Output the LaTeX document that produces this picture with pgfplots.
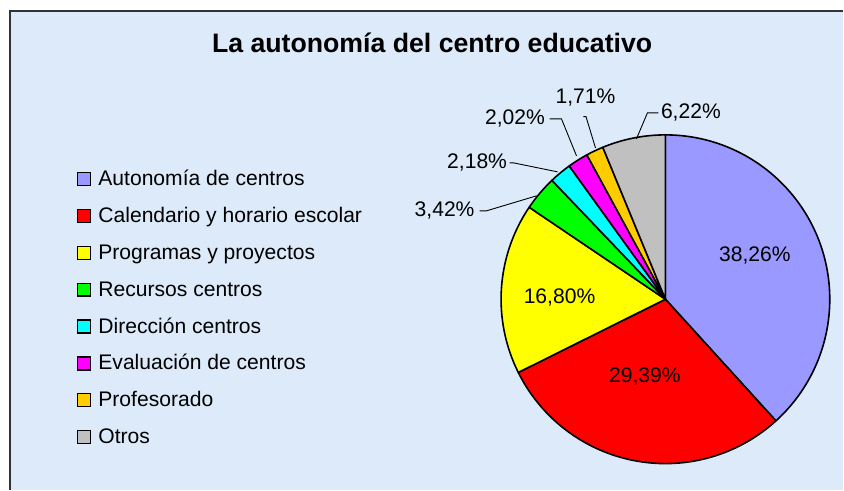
\documentclass[border=0pt]{standalone}
\usepackage{fontspec}
\setmainfont{Liberation Sans}
\usepackage{pgfplots}
\usepackage{pgfplotstable}
\pgfplotsset{compat=1.18}

\definecolor{bgcol}{RGB}{221,234,249}
\definecolor{cAut}{RGB}{153,153,255}
\definecolor{cCal}{RGB}{255,0,0}
\definecolor{cPro}{RGB}{255,255,0}
\definecolor{cRec}{RGB}{0,255,0}
\definecolor{cDir}{RGB}{0,255,255}
\definecolor{cEva}{RGB}{255,0,255}
\definecolor{cPrf}{RGB}{255,204,0}
\definecolor{cOtr}{RGB}{192,192,192}

% value, colour, label position (pixel coords, y downward)
\pgfplotstableread[col sep=comma]{
name,val,col,lx,ly
Autonomía de centros,38.26,cAut,755.5,261.7
Calendario y horario escolar,29.39,cCal,645.5,383.3
Programas y proyectos,16.80,cPro,560,303.3
Recursos centros,3.42,cRec,445,216.7
Dirección centros,2.18,cDir,477.5,168.3
Evaluación de centros,2.02,cEva,515.5,125
Profesorado,1.71,cPrf,586,103.3
Otros,6.22,cOtr,691.5,118.3
}\piedata

\begin{document}
\begin{tikzpicture}[every node/.style={font=\fontsize{21.1}{25}\selectfont, inner sep=0pt}]
\begin{axis}[
  x=1pt, y=1pt, scale only axis,
  xmin=0, xmax=844, ymin=0, ymax=490,
  y dir=reverse,
  disabledatascaling,
  hide axis, clip=false,
]
% chart area
\fill[white] (axis cs:0,0) rectangle (axis cs:844,490);
\fill[bgcol] (axis cs:10,11) rectangle (axis cs:844,490);
\draw[line width=1.5pt, black!80] (axis cs:10,490) -- (axis cs:10,11) -- (axis cs:844,11);

\node[anchor=base, font=\fontsize{26.7}{31}\selectfont\bfseries] at (axis cs:432.5,52.3) {La autonomía del centro educativo};

% slices, legend and labels from the table
\pgfplotstablegetrowsof{\piedata}
\pgfmathtruncatemacro\nrows{\pgfplotsretval-1}
\def\cum{0}
\pgfplotsforeachungrouped \i in {0,...,\nrows}{%
  \pgfplotstablegetelem{\i}{val}\of\piedata \let\pv\pgfplotsretval
  \pgfplotstablegetelem{\i}{col}\of\piedata \let\pc\pgfplotsretval
  \pgfplotstablegetelem{\i}{name}\of\piedata \let\pn\pgfplotsretval
  \pgfplotstablegetelem{\i}{lx}\of\piedata \let\plx\pgfplotsretval
  \pgfplotstablegetelem{\i}{ly}\of\piedata \let\ply\pgfplotsretval
  \pgfmathsetmacro\sa{90-3.6*\cum}
  \pgfmathsetmacro\sb{90-3.6*(\cum+\pv)}
  \pgfmathsetmacro\by{185.7+36.9*\i}
  \edef\temp{%
    \noexpand\filldraw[fill=\pc, draw=black, line width=1.6pt, line join=round]
      (axis cs:666,299.5) -- ++(\sa:164.5pt) arc[start angle=\sa, end angle=\sb, radius=164.5pt] -- cycle;
    \noexpand\node[anchor=base] at (axis cs:\plx,\ply)
      {\noexpand\pgfmathprintnumber[fixed,fixed zerofill,precision=2,use comma,assume math mode=true]{\pv}\noexpand\%};
    \noexpand\filldraw[fill=\pc, draw=black, line width=1.3pt] (axis cs:77.3,\by) rectangle ++(13.4pt,13pt);
    \noexpand\node[anchor=base west] at (axis cs:98.3,\by) {\pn};
  }%
  \temp
  \pgfmathsetmacro\cum{\cum+\pv}%
}

% leader lines of the small slices
\draw[line width=0.9pt] (axis cs:480,211) -- (axis cs:487,211) -- (axis cs:537,196);
\draw[line width=0.9pt] (axis cs:510,163) -- (axis cs:514,163) -- (axis cs:558,172);
\draw[line width=0.9pt] (axis cs:550,119) -- (axis cs:562,119) -- (axis cs:577,156);
\draw[line width=0.9pt] (axis cs:584,116.7) -- (axis cs:586.5,116.7) -- (axis cs:596,148);
\draw[line width=0.9pt] (axis cs:659,113) -- (axis cs:648,113) -- (axis cs:637,139);
\end{axis}
\end{tikzpicture}
\end{document}
